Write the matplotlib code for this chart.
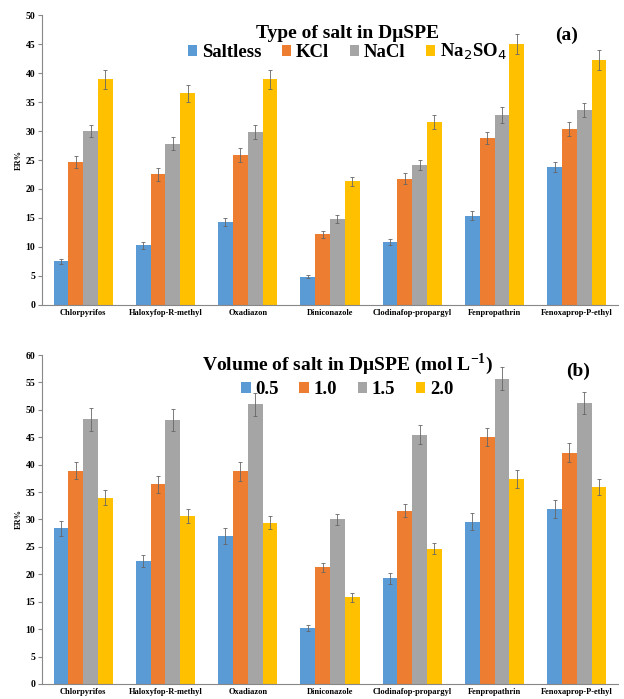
import numpy as np
import matplotlib
matplotlib.use("Agg")
import matplotlib.pyplot as plt

plt.rcParams['font.family'] = ['Liberation Serif', 'DejaVu Serif']

pesticides = ["Chlorpyrifos", "Haloxyfop-R-methyl", "Oxadiazon", "Diniconazole",
              "Clodinafop-propargyl", "Fenpropathrin", "Fenoxaprop-P-ethyl"]
colors = ["#5B9BD5", "#ED7D31", "#A5A5A5", "#FFC000"]

# (a) type of salt
salt_names = ["Saltless", "KCl", "NaCl", "Na$_2$SO$_4$"]
saltless = [7.5, 10.3, 14.3, 4.9, 10.8, 15.4, 23.8]
kcl = [24.7, 22.5, 25.9, 12.2, 21.8, 28.8, 30.4]
nacl = [30.0, 27.8, 29.9, 14.9, 24.1, 32.7, 33.7]
na2so4 = [38.9, 36.5, 38.9, 21.3, 31.6, 45.0, 42.2]
err_saltless = [0.5, 0.6, 0.7, 0.3, 0.5, 0.8, 0.9]
err_kcl = [1.0, 1.1, 1.2, 0.6, 0.9, 1.0, 1.2]
err_nacl = [1.1, 1.1, 1.2, 0.7, 0.9, 1.4, 1.2]
err_na2so4 = [1.6, 1.5, 1.6, 0.8, 1.2, 1.8, 1.7]

# (b) volume of salt
vol_names = ["0.5", "1.0", "1.5", "2.0"]
v05 = [28.4, 22.4, 27.0, 10.2, 19.3, 29.6, 31.9]
v10 = [38.9, 36.4, 38.8, 21.3, 31.6, 45.0, 42.2]
v15 = [48.3, 48.2, 51.0, 30.0, 45.5, 55.7, 51.2]
v20 = [34.0, 30.7, 29.4, 15.8, 24.7, 37.4, 35.9]
err_v05 = [1.4, 1.1, 1.4, 0.6, 1.0, 1.6, 1.6]
err_v10 = [1.6, 1.5, 1.7, 0.8, 1.2, 1.6, 1.7]
err_v15 = [2.1, 2.0, 2.1, 1.0, 1.8, 2.1, 2.0]
err_v20 = [1.3, 1.3, 1.2, 0.8, 1.0, 1.6, 1.5]

fig = plt.figure(figsize=(6.24, 6.99), dpi=100)
ax1 = fig.add_axes([0.0673, 0.5637, 0.923, 0.4148])
ax2 = fig.add_axes([0.0673, 0.0215, 0.923, 0.4706])

x = np.arange(len(pesticides))
w = 0.18


def draw(ax, series, errs, names, ymax, title, tag, ty, ly, tagx, tagy):
    for i, (vals, e) in enumerate(zip(series, errs)):
        ax.bar(x + (i - 1.5) * w, vals, w, color=colors[i], label=names[i],
               yerr=e, error_kw=dict(ecolor="#666666", elinewidth=0.6, capsize=1.2, capthick=0.6))
    ax.set_xlim(-0.5, len(pesticides) - 0.5)
    ax.set_ylim(0, ymax)
    ax.set_yticks(np.arange(0, ymax + 1, 5))
    ax.set_xticks(x)
    ax.set_xticklabels(pesticides, fontsize=6, fontweight="bold")
    ax.tick_params(axis="x", length=0, pad=3)
    ax.tick_params(axis="y", labelsize=7, length=3, color="#888888", pad=2)
    for lab in ax.get_yticklabels():
        lab.set_fontweight("bold")
    for s in ["top", "right"]:
        ax.spines[s].set_visible(False)
    ax.spines["left"].set_color("#888888")
    ax.spines["bottom"].set_color("#888888")
    ax.set_ylabel("ER%", fontsize=6, fontweight="bold", labelpad=2)
    ax.text(0.53, ty, title, transform=ax.transAxes, ha="center", va="center",
            fontsize=14, fontweight="bold")
    ax.legend(loc="center", bbox_to_anchor=(0.53, ly), ncol=4, frameon=False,
              handlelength=0.5, handleheight=0.5, handletextpad=0.25, columnspacing=1.1,
              prop=dict(size=13.5, weight="bold"))
    ax.text(tagx, tagy, tag, transform=ax.transAxes, ha="center", va="center",
            fontsize=14, fontweight="bold")


draw(ax1, [saltless, kcl, nacl, na2so4], [err_saltless, err_kcl, err_nacl, err_na2so4],
     salt_names, 50, "Type of salt in D\u03bcSPE", "(a)", 0.938, 0.872, 0.91, 0.93)
draw(ax2, [v05, v10, v15, v20], [err_v05, err_v10, err_v15, err_v20],
     vol_names, 60, "Volume of salt in D\u03bcSPE (mol L$^{\\mathregular{-1}}$)", "(b)", 0.973, 0.895, 0.93, 0.95)

fig.savefig("out.png", dpi=100)
